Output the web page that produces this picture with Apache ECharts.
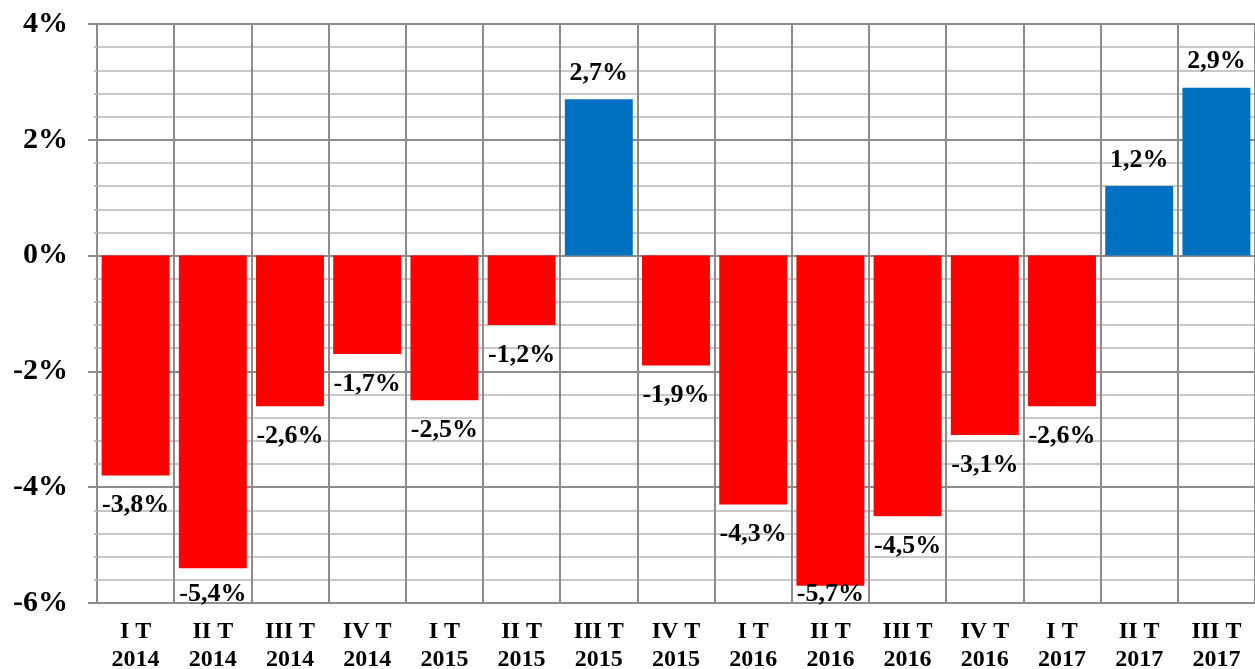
<!DOCTYPE html>
<html>
<head>
<meta charset="utf-8">
<script src="https://cdn.jsdelivr.net/npm/echarts@6/dist/echarts.min.js"></script>
<style>
  html, body { margin: 0; padding: 0; background: #fff; }
  #chart { width: 1255px; height: 669px; }
</style>
</head>
<body>
<div id="chart"></div>
<script>
  // категории (кварталы)
  var categories = [
    'I T\n2014', 'II T\n2014', 'III T\n2014', 'IV T\n2014',
    'I T\n2015', 'II T\n2015', 'III T\n2015', 'IV T\n2015',
    'I T\n2016', 'II T\n2016', 'III T\n2016', 'IV T\n2016',
    'I T\n2017', 'II T\n2017', 'III T\n2017'
  ];
  // значения, %
  var values = [-3.8, -5.4, -2.6, -1.7, -2.5, -1.2, 2.7, -1.9, -4.3, -5.7, -4.5, -3.1, -2.6, 1.2, 2.9];

  var yMin = -6;
  var yMax = 4;
  var font = '"Liberation Serif", "Times New Roman", serif';

  var myChart = echarts.init(document.getElementById('chart'));

  // пикселей на 1% по оси Y (высота сетки 579px на 10%)
  var pxPerUnit = (669 - 24 - 66) / (yMax - yMin);

  var seriesData = values.map(function (v) {
    var dist = 13;
    if (v < 0) {
      // подпись не уходит далеко за нижнюю границу области построения
      dist = Math.min(17, (v - yMin) * pxPerUnit - 22);
    }
    return {
      value: v,
      itemStyle: { color: v < 0 ? '#FF0000' : '#0070C0' },
      label: { position: v < 0 ? 'bottom' : 'top', distance: dist }
    };
  });

  myChart.setOption({
    animation: false,
    grid: {
      left: 97,
      right: 0,
      top: 24,
      bottom: 66,
      outerBoundsMode: 'none'
    },
    xAxis: {
      type: 'category',
      data: categories,
      axisLine: { show: true, onZero: false, lineStyle: { color: '#8c8c8c', width: 2 } },
      axisTick: { show: false },
      splitLine: { show: true, interval: 0, lineStyle: { color: '#8c8c8c', width: 2 } },
      axisLabel: {
        interval: 0,
        margin: 15,
        color: '#000',
        fontFamily: font,
        fontWeight: 'bold',
        fontSize: 24,
        lineHeight: 28
      }
    },
    yAxis: {
      type: 'value',
      min: yMin,
      max: yMax,
      interval: 2,
      axisLine: { show: true, lineStyle: { color: '#8c8c8c', width: 2 } },
      axisTick: { show: true, length: 9, lineStyle: { color: '#8c8c8c', width: 2 } },
      splitLine: { lineStyle: { color: '#8c8c8c', width: 2 } },
      minorTick: { show: true, splitNumber: 5, length: 3, lineStyle: { color: '#bfbfbf', width: 2 } },
      minorSplitLine: { show: true, lineStyle: { color: '#c8c8c8', width: 2 } },
      axisLabel: {
        margin: 29,
        color: '#000',
        fontFamily: font,
        fontWeight: 'bold',
        fontSize: 30,
        formatter: function (v) { return v + '%'; }
      }
    },
    series: [{
      type: 'bar',
      data: seriesData,
      barCategoryGap: '12%',
      label: {
        show: true,
        color: '#000',
        fontFamily: font,
        fontWeight: 'bold',
        fontSize: 26,
        formatter: function (p) { return p.value.toFixed(1).replace('.', ',') + '%'; }
      }
    }]
  });
</script>
</body>
</html>
